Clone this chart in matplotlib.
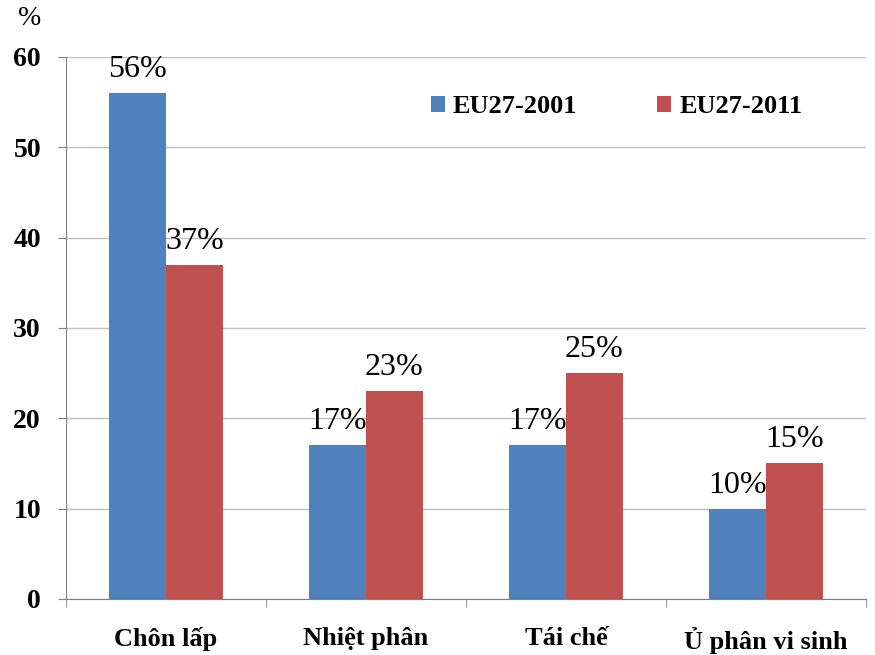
import numpy as np
import matplotlib.pyplot as plt

categories = ["Chôn lấp", "Nhiệt phân", "Tái chế", "Ủ phân vi sinh"]
eu_2001 = [56, 17, 17, 10]
eu_2011 = [37, 23, 25, 15]
series_names = ["EU27-2001", "EU27-2011"]

plt.rcParams["font.family"] = ["Liberation Serif", "DejaVu Serif"]

fig = plt.figure(figsize=(8.75, 6.55), dpi=100)
ax = fig.add_axes([0.0754, 0.0855, 0.9143, 0.8275])

x = np.arange(len(categories))
w = 0.285
b1 = ax.bar(x - w / 2, eu_2001, w, color="#4F81BD", label=series_names[0], zorder=3)
b2 = ax.bar(x + w / 2, eu_2011, w, color="#C0504D", label=series_names[1], zorder=3)

for bars, vals in ((b1, eu_2001), (b2, eu_2011)):
    for rect, v in zip(bars, vals):
        ax.text(rect.get_x() + rect.get_width() / 2, v + 1.0, f"{v}%",
                ha="center", va="bottom", fontsize=23, zorder=4)

ax.set_xlim(-0.5, len(categories) - 0.5)
ax.set_ylim(0, 60)
ax.set_yticks(range(0, 61, 10))
ax.grid(axis="y", color="#BFBFBF", linewidth=1, zorder=0)

ax.set_xticks(x)
ax.set_xticklabels(categories, fontsize=19, fontweight="bold")
ax.set_xticks(np.arange(-0.5, len(categories)), minor=True)
ax.tick_params(axis="x", which="major", length=0, pad=20)
ax.tick_params(axis="x", which="minor", length=6, direction="out", color="#808080")
ax.tick_params(axis="y", length=6, direction="out", color="#808080", pad=12)
for lbl in ax.get_yticklabels():
    lbl.set_fontsize(20)
    lbl.set_fontweight("bold")

for side in ("top", "right"):
    ax.spines[side].set_visible(False)
for side in ("left", "bottom"):
    ax.spines[side].set_color("#808080")
    ax.spines[side].set_zorder(5)

fig.text(0.034, 0.972, "%", fontsize=20, ha="center", va="center")

ax.legend(loc="upper center", bbox_to_anchor=(0.688, 0.973), ncol=2, frameon=False,
          prop={"size": 19, "weight": "bold"}, handlelength=0.55, handleheight=0.55,
          handletextpad=0.3, columnspacing=3.0)

fig.savefig("out.png", dpi=100)
